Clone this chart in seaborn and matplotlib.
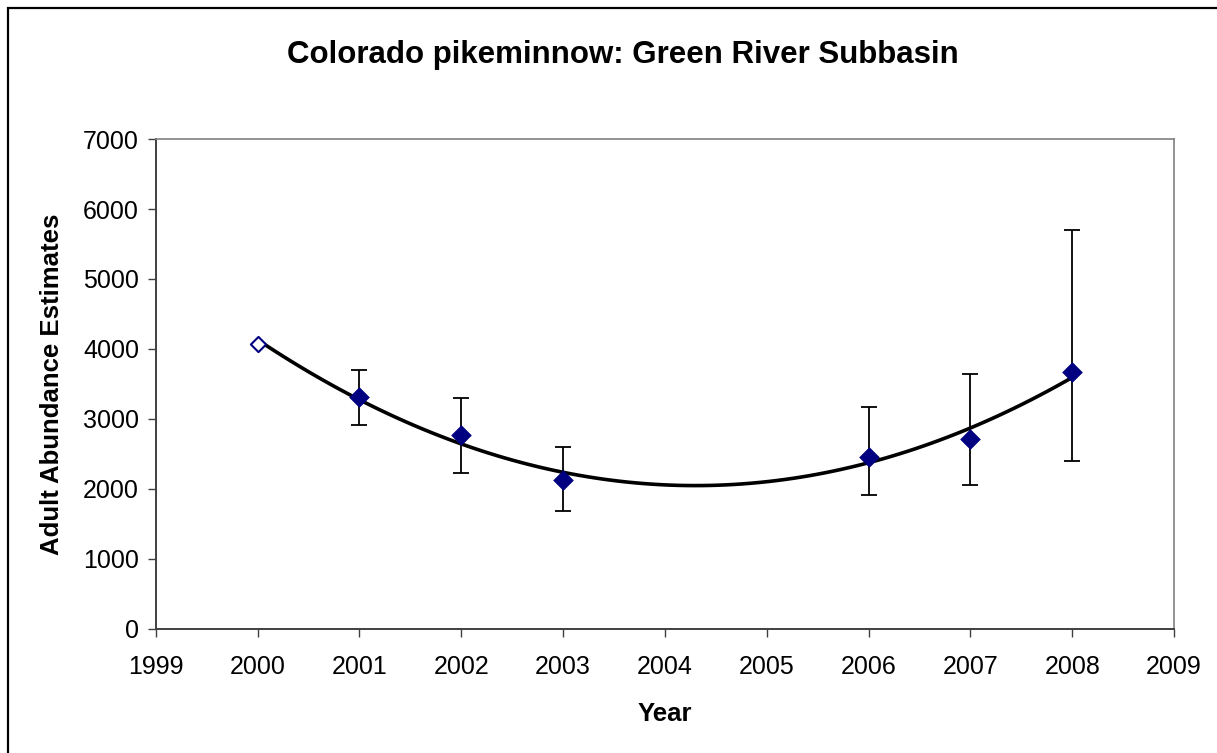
import numpy as np
import pandas as pd
import matplotlib
matplotlib.use('Agg')
import matplotlib.pyplot as plt
import seaborn as sns

# valores
anos = [2000, 2001, 2002, 2003, 2006, 2007, 2008]
estimativas = [4073, 3312, 2766, 2134, 2457, 2709, 3678]
limite_inf = [np.nan, 2908, 2224, 1682, 1911, 2053, 2395]
limite_sup = [np.nan, 3702, 3303, 2595, 3170, 3645, 5699]

xticks_anos = list(range(1999, 2010))
yticks_vals = list(range(0, 8000, 1000))

df = pd.DataFrame({'ano': anos, 'est': estimativas, 'inf': limite_inf, 'sup': limite_sup})

sns.set_style('white')
plt.rcParams['font.family'] = ['Liberation Sans', 'DejaVu Sans']
plt.rcParams['text.color'] = 'black'
plt.rcParams['axes.labelcolor'] = 'black'
plt.rcParams['xtick.color'] = 'black'
plt.rcParams['ytick.color'] = 'black'

fig = plt.figure(figsize=(12.17, 7.53), dpi=100)
ax = fig.add_axes([0.128, 0.1647, 0.8367, 0.6507])

# barras de erro (sem o primeiro ponto)
com_erro = df.dropna()
ax.errorbar(com_erro['ano'], com_erro['est'],
            yerr=[com_erro['est'] - com_erro['inf'], com_erro['sup'] - com_erro['est']],
            fmt='none', ecolor='black', elinewidth=1.3, capsize=5.6, capthick=1.3, zorder=2)

# linha de tendencia polinomial (ordem 2)
sns.regplot(data=df, x='ano', y='est', order=2, ci=None, scatter=False, truncate=True,
            line_kws={'color': 'black', 'lw': 2.6, 'zorder': 3}, ax=ax)

# pontos
sns.scatterplot(data=df.iloc[1:], x='ano', y='est', marker='D', s=100, color='#000080',
                edgecolor='#000080', linewidth=0.5, zorder=4, ax=ax)
sns.scatterplot(data=df.iloc[:1], x='ano', y='est', marker='D', s=60, color='white',
                edgecolor='#000080', linewidth=1.5, zorder=4, ax=ax)

ax.set_xlim(1999, 2009)
ax.set_ylim(0, 7000)
ax.set_xticks(xticks_anos)
ax.set_yticks(yticks_vals)
ax.tick_params(axis='both', labelsize=18, direction='out', length=6, width=1,
               color='#404040', bottom=True, left=True)
ax.tick_params(axis='x', pad=13)
ax.tick_params(axis='y', pad=6)

for lado in ['left', 'bottom']:
    ax.spines[lado].set_color('#404040')
    ax.spines[lado].set_linewidth(1.4)
for lado in ['top', 'right']:
    ax.spines[lado].set_color('#808080')
    ax.spines[lado].set_linewidth(1.2)

ax.set_xlabel('Year', fontsize=18.5, fontweight='bold', labelpad=16)
ax.set_ylabel('Adult Abundance Estimates', fontsize=18.5, fontweight='bold', labelpad=14)
fig.text(0.512, 0.927, 'Colorado pikeminnow: Green River Subbasin', ha='center', va='center',
         fontsize=22.5, fontweight='bold')

# borda externa
borda = plt.Rectangle((8 / 1217, -0.05), 1.1, (753 - 8) / 753 + 0.05, transform=fig.transFigure,
                      fill=False, edgecolor='black', linewidth=1.6)
fig.patches.append(borda)

fig.savefig('out.png', dpi=100)
